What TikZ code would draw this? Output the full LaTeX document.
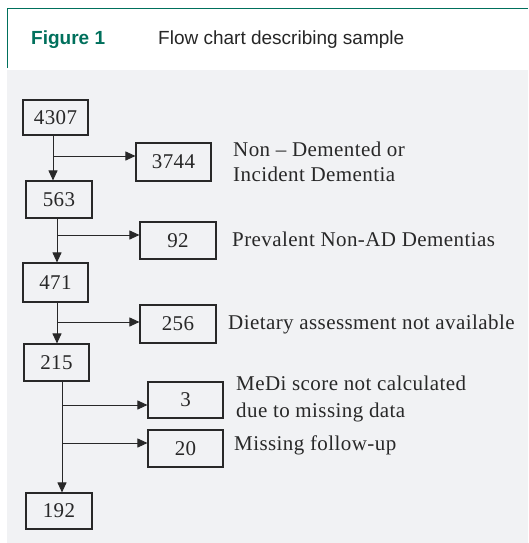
\documentclass[tikz,border=0pt]{standalone}
\usepackage{fontspec}
\setmainfont{Liberation Serif}[LetterSpace=2]
\newfontfamily\hdrfont{Liberation Sans}
\usetikzlibrary{arrows.meta}
\definecolor{hdrgreen}{RGB}{0,112,92}
\definecolor{panelgray}{RGB}{241,242,244}
\definecolor{inkgray}{RGB}{40,40,40}
\begin{document}
\begin{tikzpicture}[x=1pt,y=-1pt,
  numbox/.style={draw=inkgray, line width=1.1pt, rectangle, inner sep=0pt, text=inkgray, font=\fontsize{21}{25}\selectfont},
  lbl/.style={anchor=base west, inner sep=0pt, text=inkgray, font=\fontsize{21}{25}\selectfont},
  arr/.style={draw=inkgray, line width=0.9pt, -{Triangle[length=10pt,width=9pt]}},
  ln/.style={draw=inkgray, line width=0.9pt},
  hdr/.style={anchor=base west, inner sep=0pt, font=\hdrfont\fontsize{19}{23}\selectfont}]
\useasboundingbox (0,0) rectangle (528,543);
\fill[white] (0,0) rectangle (528,543);
\fill[panelgray] (7,70) rectangle (528,543);
\draw[hdrgreen, line width=1.5pt] (7.5,68) -- (7.5,8.5) -- (528,8.5);
\node[hdr, text=hdrgreen, font=\hdrfont\bfseries\fontsize{19}{23}\selectfont] (figno) at (31,45) {Figure 1};
\node[hdr, text=black!85] (title) at (158,45) {Flow chart describing sample};

% boxes
\node[numbox, minimum width=65pt, minimum height=35pt] (a) at (55.5,117.5) {4307};
\node[numbox, minimum width=75pt, minimum height=38pt] (b) at (173.5,162) {3744};
\node[numbox, minimum width=66pt, minimum height=37pt] (c) at (59,199.5) {563};
\node[numbox, minimum width=76pt, minimum height=37pt] (d) at (178,240.5) {92};
\node[numbox, minimum width=65pt, minimum height=39pt] (e) at (55.5,282.5) {471};
\node[numbox, minimum width=76pt, minimum height=38pt] (f) at (178,324) {256};
\node[numbox, minimum width=65pt, minimum height=37pt] (g) at (56.5,362.5) {215};
\node[numbox, minimum width=75pt, minimum height=36pt] (h) at (185.5,400) {3};
\node[numbox, minimum width=75pt, minimum height=37pt] (i) at (185.5,448.5) {20};
\node[numbox, minimum width=66pt, minimum height=36pt] (j) at (59,511) {192};

% labels
\node[lbl] (lb1) at (233,156) {Non – Demented or};
\node[lbl] (lb1b) at (233,181) {Incident Dementia};
\node[lbl] (lb2) at (232,246.5) {Prevalent Non-AD Dementias};
\node[lbl] (lb3) at (228,329.5) {Dietary assessment not available};
\node[lbl] (lb4) at (236,390.5) {MeDi score not calculated};
\node[lbl] (lb4b) at (236,417) {due to missing data};
\node[lbl] (lb5) at (234,450) {Missing follow-up};

% branch points
\coordinate (k1) at (53,156);
\coordinate (k2) at (57,235);
\coordinate (k3) at (57,322);
\coordinate (k4) at (62,405);
\coordinate (k5) at (62,443);

% connectors
\draw[arr] (a.south -| k1) -- (c.north -| k1);
\draw[arr] (k1) -- (k1 -| b.west);
\draw[arr] (c.south -| k2) -- (e.north -| k2);
\draw[arr] (k2) -- (k2 -| d.west);
\draw[arr] (e.south -| k3) -- (g.north -| k3);
\draw[arr] (k3) -- (k3 -| f.west);
\draw[arr] (g.south -| k4) -- (j.north -| k4);
\draw[arr] (k4) -- (k4 -| h.west);
\draw[arr] (k5) -- (k5 -| i.west);
\end{tikzpicture}
\end{document}
